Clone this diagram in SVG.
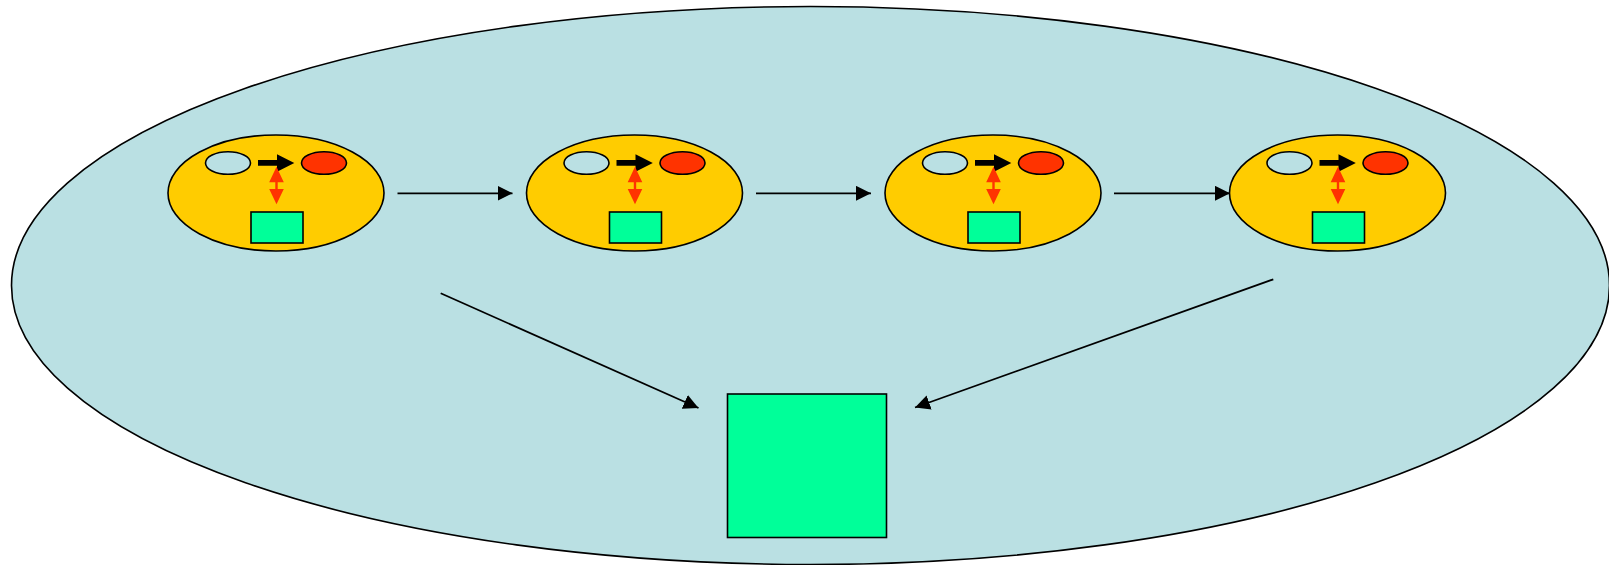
<svg xmlns="http://www.w3.org/2000/svg" xmlns:xlink="http://www.w3.org/1999/xlink" width="1609" height="565" viewBox="0 0 1609 565">
  <style>
    .outline { stroke: #000; stroke-width: 1.6; }
    .pool { fill: #BAE0E3; }
    .face { fill: #FFCC00; }
    .hot { fill: #FF3300; }
    .box { fill: #00FF99; }
    .link { stroke: #000; stroke-width: 1.8; fill: none; }
  </style>
  <defs>
    <marker id="head" markerUnits="userSpaceOnUse" markerWidth="16" markerHeight="16" refX="15" refY="7.5" orient="auto" viewBox="0 0 16 16">
      <path d="M0,0 L15,7.5 L0,15 Z" fill="#000"/>
    </marker>
    <!-- one unit: face with two eyes, arrows and a small box, centred on 0,0 -->
    <g id="unit">
      <ellipse class="face outline" cx="0" cy="0" rx="108" ry="58"/>
      <ellipse class="pool outline" cx="-48" cy="-30" rx="22.5" ry="11.3"/>
      <ellipse class="hot outline" cx="48" cy="-30" rx="22.5" ry="11.3"/>
      <polygon fill="#000" points="-18,-33 1,-33 1,-38.7 18.3,-30 1,-21.3 1,-27.2 -18,-27.2"/>
      <polygon class="hot" points="0.5,-26.3 7.8,-10.7 1.7,-10.7 1.7,-4 7.8,-4 0.5,11.3 -6.8,-4 -0.7,-4 -0.7,-10.7 -6.8,-10.7"/>
      <rect class="box outline" x="-25" y="19" width="52" height="31"/>
    </g>
  </defs>

  <g id="pool">
    <ellipse class="pool outline" cx="810.5" cy="285.5" rx="799" ry="279"/>
  </g>

  <g id="unit-1"><use xlink:href="#unit" href="#unit" transform="translate(276,193)"/></g>
  <g id="unit-2"><use xlink:href="#unit" href="#unit" transform="translate(634.5,193)"/></g>
  <g id="unit-3"><use xlink:href="#unit" href="#unit" transform="translate(993,193)"/></g>
  <g id="unit-4"><use xlink:href="#unit" href="#unit" transform="translate(1337.5,193)"/></g>

  <g id="store">
    <rect class="box outline" x="727.5" y="394" width="159" height="143.5"/>
  </g>

  <g id="connectors">
    <line class="link" x1="397.5" y1="193.3" x2="512.5" y2="193.3" marker-end="url(#head)"/>
    <line class="link" x1="756" y1="193.3" x2="871" y2="193.3" marker-end="url(#head)"/>
    <line class="link" x1="1114" y1="193.3" x2="1230" y2="193.3" marker-end="url(#head)"/>
    <line class="link" x1="440.7" y1="293.3" x2="698.5" y2="408" marker-end="url(#head)"/>
    <line class="link" x1="1273.3" y1="279.3" x2="915" y2="407.5" marker-end="url(#head)"/>
  </g>
</svg>
